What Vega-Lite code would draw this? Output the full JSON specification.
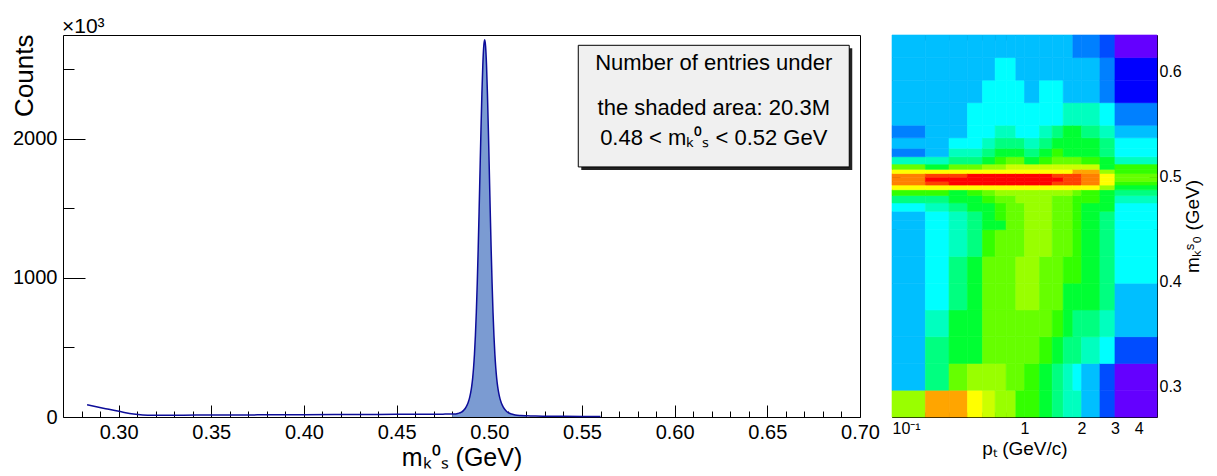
{
"$schema": "https://vega.github.io/schema/vega-lite/v6.json",
"padding": {"left": 10, "top": 15, "right": 5, "bottom": 5},
"background": "white",
"bounds": "flush",
"spacing": 32,
"config": {
  "font": "Liberation Sans",
  "view": {"stroke": "black", "strokeWidth": 1},
  "axis": {"domain": false, "grid": false, "labelColor": "black", "titleColor": "black", "tickColor": "black", "tickWidth": 1, "labelFont": "Liberation Sans", "titleFont": "Liberation Sans", "titleFontWeight": "normal", "labelOverlap": false, "labelBound": false, "tickCount": 200}
},
"datasets": {
  "spectrum": [
    {"m": 0.283, "counts_k": 88}, {"m": 0.288, "counts_k": 74}, {"m": 0.293, "counts_k": 60}, {"m": 0.298, "counts_k": 46},
    {"m": 0.303, "counts_k": 33}, {"m": 0.308, "counts_k": 22}, {"m": 0.313, "counts_k": 15}, {"m": 0.318, "counts_k": 12},
    {"m": 0.325, "counts_k": 12}, {"m": 0.335, "counts_k": 13}, {"m": 0.35, "counts_k": 14}, {"m": 0.37, "counts_k": 15},
    {"m": 0.40, "counts_k": 17}, {"m": 0.43, "counts_k": 18}, {"m": 0.45, "counts_k": 19}, {"m": 0.46, "counts_k": 19.5},
    {"m": 0.47, "counts_k": 20}, {"m": 0.475, "counts_k": 20.5}, {"m": 0.478, "counts_k": 21}, {"m": 0.48, "counts_k": 21},
    {"m": 0.481, "counts_k": 21}, {"m": 0.483, "counts_k": 25}, {"m": 0.485, "counts_k": 35}, {"m": 0.486, "counts_k": 46},
    {"m": 0.487, "counts_k": 61}, {"m": 0.488, "counts_k": 85}, {"m": 0.4885, "counts_k": 101}, {"m": 0.489, "counts_k": 121},
    {"m": 0.4895, "counts_k": 146}, {"m": 0.49, "counts_k": 178}, {"m": 0.4905, "counts_k": 220}, {"m": 0.491, "counts_k": 276},
    {"m": 0.4915, "counts_k": 352}, {"m": 0.492, "counts_k": 452}, {"m": 0.4925, "counts_k": 585}, {"m": 0.493, "counts_k": 753},
    {"m": 0.4935, "counts_k": 961}, {"m": 0.494, "counts_k": 1206}, {"m": 0.4945, "counts_k": 1480}, {"m": 0.495, "counts_k": 1772},
    {"m": 0.4955, "counts_k": 2059}, {"m": 0.496, "counts_k": 2320}, {"m": 0.4965, "counts_k": 2528}, {"m": 0.497, "counts_k": 2663},
    {"m": 0.4975, "counts_k": 2710}, {"m": 0.498, "counts_k": 2663}, {"m": 0.4985, "counts_k": 2528}, {"m": 0.499, "counts_k": 2320},
    {"m": 0.4995, "counts_k": 2059}, {"m": 0.5, "counts_k": 1772}, {"m": 0.5005, "counts_k": 1480}, {"m": 0.501, "counts_k": 1206},
    {"m": 0.5015, "counts_k": 961}, {"m": 0.502, "counts_k": 753}, {"m": 0.5025, "counts_k": 585}, {"m": 0.503, "counts_k": 452},
    {"m": 0.5035, "counts_k": 352}, {"m": 0.504, "counts_k": 276}, {"m": 0.5045, "counts_k": 220}, {"m": 0.505, "counts_k": 178},
    {"m": 0.5055, "counts_k": 146}, {"m": 0.506, "counts_k": 121}, {"m": 0.5065, "counts_k": 101}, {"m": 0.507, "counts_k": 85},
    {"m": 0.508, "counts_k": 61}, {"m": 0.509, "counts_k": 45}, {"m": 0.51, "counts_k": 33}, {"m": 0.512, "counts_k": 22},
    {"m": 0.514, "counts_k": 15}, {"m": 0.517, "counts_k": 11}, {"m": 0.52, "counts_k": 9}, {"m": 0.525, "counts_k": 7},
    {"m": 0.53, "counts_k": 6}, {"m": 0.54, "counts_k": 5}, {"m": 0.55, "counts_k": 4}, {"m": 0.56, "counts_k": 3}
  ],
  "ptbins": [
    {"pt_bin": 0, "pt_lo": 0.2, "pt_hi": 0.3}, {"pt_bin": 1, "pt_lo": 0.3, "pt_hi": 0.4}, {"pt_bin": 2, "pt_lo": 0.4, "pt_hi": 0.5},
    {"pt_bin": 3, "pt_lo": 0.5, "pt_hi": 0.6}, {"pt_bin": 4, "pt_lo": 0.6, "pt_hi": 0.7}, {"pt_bin": 5, "pt_lo": 0.7, "pt_hi": 0.8},
    {"pt_bin": 6, "pt_lo": 0.8, "pt_hi": 0.9}, {"pt_bin": 7, "pt_lo": 0.9, "pt_hi": 1.0}, {"pt_bin": 8, "pt_lo": 1.0, "pt_hi": 1.2},
    {"pt_bin": 9, "pt_lo": 1.2, "pt_hi": 1.4}, {"pt_bin": 10, "pt_lo": 1.4, "pt_hi": 1.6}, {"pt_bin": 11, "pt_lo": 1.6, "pt_hi": 1.8},
    {"pt_bin": 12, "pt_lo": 1.8, "pt_hi": 2.0}, {"pt_bin": 13, "pt_lo": 2.0, "pt_hi": 2.5}, {"pt_bin": 14, "pt_lo": 2.5, "pt_hi": 3.0},
    {"pt_bin": 15, "pt_lo": 3.0, "pt_hi": 5.0}
  ],
  "mbins": [
    {"m_bin": 0, "m_lo": 0.271, "m_hi": 0.2965}, {"m_bin": 1, "m_lo": 0.2965, "m_hi": 0.322}, {"m_bin": 2, "m_lo": 0.322, "m_hi": 0.3475},
    {"m_bin": 3, "m_lo": 0.3475, "m_hi": 0.373}, {"m_bin": 4, "m_lo": 0.373, "m_hi": 0.3985}, {"m_bin": 5, "m_lo": 0.3985, "m_hi": 0.424},
    {"m_bin": 6, "m_lo": 0.424, "m_hi": 0.4495}, {"m_bin": 7, "m_lo": 0.4495, "m_hi": 0.4585}, {"m_bin": 8, "m_lo": 0.4585, "m_hi": 0.467},
    {"m_bin": 9, "m_lo": 0.467, "m_hi": 0.475}, {"m_bin": 10, "m_lo": 0.475, "m_hi": 0.482}, {"m_bin": 11, "m_lo": 0.482, "m_hi": 0.4875},
    {"m_bin": 12, "m_lo": 0.4875, "m_hi": 0.492}, {"m_bin": 13, "m_lo": 0.492, "m_hi": 0.4955}, {"m_bin": 14, "m_lo": 0.4955, "m_hi": 0.4995},
    {"m_bin": 15, "m_lo": 0.4995, "m_hi": 0.503}, {"m_bin": 16, "m_lo": 0.503, "m_hi": 0.507}, {"m_bin": 17, "m_lo": 0.507, "m_hi": 0.512},
    {"m_bin": 18, "m_lo": 0.512, "m_hi": 0.519}, {"m_bin": 19, "m_lo": 0.519, "m_hi": 0.527}, {"m_bin": 20, "m_lo": 0.527, "m_hi": 0.537},
    {"m_bin": 21, "m_lo": 0.537, "m_hi": 0.549}, {"m_bin": 22, "m_lo": 0.549, "m_hi": 0.5705}, {"m_bin": 23, "m_lo": 0.5705, "m_hi": 0.592},
    {"m_bin": 24, "m_lo": 0.592, "m_hi": 0.6135}, {"m_bin": 25, "m_lo": 0.6135, "m_hi": 0.635}
  ],
  "cells": [
    {"pt_bin":0,"m_bin":0,"level":11},{"pt_bin":0,"m_bin":1,"level":4},{"pt_bin":0,"m_bin":2,"level":4},{"pt_bin":0,"m_bin":3,"level":4},{"pt_bin":0,"m_bin":4,"level":4},{"pt_bin":0,"m_bin":5,"level":4},{"pt_bin":0,"m_bin":6,"level":4},{"pt_bin":0,"m_bin":7,"level":4},{"pt_bin":0,"m_bin":8,"level":4},{"pt_bin":0,"m_bin":9,"level":5},{"pt_bin":0,"m_bin":10,"level":7},{"pt_bin":0,"m_bin":11,"level":9},{"pt_bin":0,"m_bin":12,"level":13},{"pt_bin":0,"m_bin":13,"level":15},{"pt_bin":0,"m_bin":14,"level":15},{"pt_bin":0,"m_bin":15,"level":15},{"pt_bin":0,"m_bin":16,"level":13},{"pt_bin":0,"m_bin":17,"level":10},{"pt_bin":0,"m_bin":18,"level":6},{"pt_bin":0,"m_bin":19,"level":3},{"pt_bin":0,"m_bin":20,"level":4},{"pt_bin":0,"m_bin":21,"level":3},{"pt_bin":0,"m_bin":22,"level":4},{"pt_bin":0,"m_bin":23,"level":4},{"pt_bin":0,"m_bin":24,"level":4},{"pt_bin":0,"m_bin":25,"level":4},
    {"pt_bin":1,"m_bin":0,"level":14},{"pt_bin":1,"m_bin":1,"level":7},{"pt_bin":1,"m_bin":2,"level":7},{"pt_bin":1,"m_bin":3,"level":6},{"pt_bin":1,"m_bin":4,"level":5},{"pt_bin":1,"m_bin":5,"level":5},{"pt_bin":1,"m_bin":6,"level":5},{"pt_bin":1,"m_bin":7,"level":5},{"pt_bin":1,"m_bin":8,"level":5},{"pt_bin":1,"m_bin":9,"level":6},{"pt_bin":1,"m_bin":10,"level":7},{"pt_bin":1,"m_bin":11,"level":9},{"pt_bin":1,"m_bin":12,"level":13},{"pt_bin":1,"m_bin":13,"level":16},{"pt_bin":1,"m_bin":14,"level":17},{"pt_bin":1,"m_bin":15,"level":16},{"pt_bin":1,"m_bin":16,"level":13},{"pt_bin":1,"m_bin":17,"level":8},{"pt_bin":1,"m_bin":18,"level":6},{"pt_bin":1,"m_bin":19,"level":4},{"pt_bin":1,"m_bin":20,"level":4},{"pt_bin":1,"m_bin":21,"level":4},{"pt_bin":1,"m_bin":22,"level":4},{"pt_bin":1,"m_bin":23,"level":4},{"pt_bin":1,"m_bin":24,"level":4},{"pt_bin":1,"m_bin":25,"level":4},
    {"pt_bin":2,"m_bin":0,"level":14},{"pt_bin":2,"m_bin":1,"level":10},{"pt_bin":2,"m_bin":2,"level":8},{"pt_bin":2,"m_bin":3,"level":8},{"pt_bin":2,"m_bin":4,"level":7},{"pt_bin":2,"m_bin":5,"level":7},{"pt_bin":2,"m_bin":6,"level":6},{"pt_bin":2,"m_bin":7,"level":6},{"pt_bin":2,"m_bin":8,"level":6},{"pt_bin":2,"m_bin":9,"level":7},{"pt_bin":2,"m_bin":10,"level":8},{"pt_bin":2,"m_bin":11,"level":8},{"pt_bin":2,"m_bin":12,"level":13},{"pt_bin":2,"m_bin":13,"level":17},{"pt_bin":2,"m_bin":14,"level":17},{"pt_bin":2,"m_bin":15,"level":16},{"pt_bin":2,"m_bin":16,"level":13},{"pt_bin":2,"m_bin":17,"level":10},{"pt_bin":2,"m_bin":18,"level":7},{"pt_bin":2,"m_bin":19,"level":6},{"pt_bin":2,"m_bin":20,"level":5},{"pt_bin":2,"m_bin":21,"level":4},{"pt_bin":2,"m_bin":22,"level":4},{"pt_bin":2,"m_bin":23,"level":4},{"pt_bin":2,"m_bin":24,"level":4},{"pt_bin":2,"m_bin":25,"level":4},
    {"pt_bin":3,"m_bin":0,"level":13},{"pt_bin":3,"m_bin":1,"level":11},{"pt_bin":3,"m_bin":2,"level":8},{"pt_bin":3,"m_bin":3,"level":8},{"pt_bin":3,"m_bin":4,"level":8},{"pt_bin":3,"m_bin":5,"level":8},{"pt_bin":3,"m_bin":6,"level":7},{"pt_bin":3,"m_bin":7,"level":7},{"pt_bin":3,"m_bin":8,"level":7},{"pt_bin":3,"m_bin":9,"level":8},{"pt_bin":3,"m_bin":10,"level":8},{"pt_bin":3,"m_bin":11,"level":9},{"pt_bin":3,"m_bin":12,"level":13},{"pt_bin":3,"m_bin":13,"level":17},{"pt_bin":3,"m_bin":14,"level":17},{"pt_bin":3,"m_bin":15,"level":17},{"pt_bin":3,"m_bin":16,"level":13},{"pt_bin":3,"m_bin":17,"level":10},{"pt_bin":3,"m_bin":18,"level":7},{"pt_bin":3,"m_bin":19,"level":6},{"pt_bin":3,"m_bin":20,"level":5},{"pt_bin":3,"m_bin":21,"level":5},{"pt_bin":3,"m_bin":22,"level":5},{"pt_bin":3,"m_bin":23,"level":4},{"pt_bin":3,"m_bin":24,"level":4},{"pt_bin":3,"m_bin":25,"level":4},
    {"pt_bin":4,"m_bin":0,"level":12},{"pt_bin":4,"m_bin":1,"level":11},{"pt_bin":4,"m_bin":2,"level":10},{"pt_bin":4,"m_bin":3,"level":10},{"pt_bin":4,"m_bin":4,"level":10},{"pt_bin":4,"m_bin":5,"level":10},{"pt_bin":4,"m_bin":6,"level":9},{"pt_bin":4,"m_bin":7,"level":8},{"pt_bin":4,"m_bin":8,"level":8},{"pt_bin":4,"m_bin":9,"level":8},{"pt_bin":4,"m_bin":10,"level":9},{"pt_bin":4,"m_bin":11,"level":10},{"pt_bin":4,"m_bin":12,"level":13},{"pt_bin":4,"m_bin":13,"level":17},{"pt_bin":4,"m_bin":14,"level":17},{"pt_bin":4,"m_bin":15,"level":17},{"pt_bin":4,"m_bin":16,"level":13},{"pt_bin":4,"m_bin":17,"level":11},{"pt_bin":4,"m_bin":18,"level":8},{"pt_bin":4,"m_bin":19,"level":7},{"pt_bin":4,"m_bin":20,"level":6},{"pt_bin":4,"m_bin":21,"level":5},{"pt_bin":4,"m_bin":22,"level":5},{"pt_bin":4,"m_bin":23,"level":5},{"pt_bin":4,"m_bin":24,"level":4},{"pt_bin":4,"m_bin":25,"level":4},
    {"pt_bin":5,"m_bin":0,"level":11},{"pt_bin":5,"m_bin":1,"level":11},{"pt_bin":5,"m_bin":2,"level":10},{"pt_bin":5,"m_bin":3,"level":10},{"pt_bin":5,"m_bin":4,"level":10},{"pt_bin":5,"m_bin":5,"level":10},{"pt_bin":5,"m_bin":6,"level":10},{"pt_bin":5,"m_bin":7,"level":8},{"pt_bin":5,"m_bin":8,"level":9},{"pt_bin":5,"m_bin":9,"level":9},{"pt_bin":5,"m_bin":10,"level":10},{"pt_bin":5,"m_bin":11,"level":11},{"pt_bin":5,"m_bin":12,"level":13},{"pt_bin":5,"m_bin":13,"level":17},{"pt_bin":5,"m_bin":14,"level":17},{"pt_bin":5,"m_bin":15,"level":17},{"pt_bin":5,"m_bin":16,"level":13},{"pt_bin":5,"m_bin":17,"level":11},{"pt_bin":5,"m_bin":18,"level":9},{"pt_bin":5,"m_bin":19,"level":8},{"pt_bin":5,"m_bin":20,"level":7},{"pt_bin":5,"m_bin":21,"level":6},{"pt_bin":5,"m_bin":22,"level":5},{"pt_bin":5,"m_bin":23,"level":5},{"pt_bin":5,"m_bin":24,"level":5},{"pt_bin":5,"m_bin":25,"level":4},
    {"pt_bin":6,"m_bin":0,"level":11},{"pt_bin":6,"m_bin":1,"level":10},{"pt_bin":6,"m_bin":2,"level":10},{"pt_bin":6,"m_bin":3,"level":10},{"pt_bin":6,"m_bin":4,"level":10},{"pt_bin":6,"m_bin":5,"level":10},{"pt_bin":6,"m_bin":6,"level":10},{"pt_bin":6,"m_bin":7,"level":10},{"pt_bin":6,"m_bin":8,"level":10},{"pt_bin":6,"m_bin":9,"level":10},{"pt_bin":6,"m_bin":10,"level":10},{"pt_bin":6,"m_bin":11,"level":11},{"pt_bin":6,"m_bin":12,"level":13},{"pt_bin":6,"m_bin":13,"level":17},{"pt_bin":6,"m_bin":14,"level":17},{"pt_bin":6,"m_bin":15,"level":17},{"pt_bin":6,"m_bin":16,"level":13},{"pt_bin":6,"m_bin":17,"level":12},{"pt_bin":6,"m_bin":18,"level":10},{"pt_bin":6,"m_bin":19,"level":8},{"pt_bin":6,"m_bin":20,"level":7},{"pt_bin":6,"m_bin":21,"level":6},{"pt_bin":6,"m_bin":22,"level":5},{"pt_bin":6,"m_bin":23,"level":5},{"pt_bin":6,"m_bin":24,"level":5},{"pt_bin":6,"m_bin":25,"level":4},
    {"pt_bin":7,"m_bin":0,"level":9},{"pt_bin":7,"m_bin":1,"level":10},{"pt_bin":7,"m_bin":2,"level":10},{"pt_bin":7,"m_bin":3,"level":10},{"pt_bin":7,"m_bin":4,"level":11},{"pt_bin":7,"m_bin":5,"level":11},{"pt_bin":7,"m_bin":6,"level":10},{"pt_bin":7,"m_bin":7,"level":10},{"pt_bin":7,"m_bin":8,"level":10},{"pt_bin":7,"m_bin":9,"level":10},{"pt_bin":7,"m_bin":10,"level":11},{"pt_bin":7,"m_bin":11,"level":11},{"pt_bin":7,"m_bin":12,"level":13},{"pt_bin":7,"m_bin":13,"level":17},{"pt_bin":7,"m_bin":14,"level":17},{"pt_bin":7,"m_bin":15,"level":17},{"pt_bin":7,"m_bin":16,"level":13},{"pt_bin":7,"m_bin":17,"level":12},{"pt_bin":7,"m_bin":18,"level":10},{"pt_bin":7,"m_bin":19,"level":8},{"pt_bin":7,"m_bin":20,"level":7},{"pt_bin":7,"m_bin":21,"level":5},{"pt_bin":7,"m_bin":22,"level":5},{"pt_bin":7,"m_bin":23,"level":5},{"pt_bin":7,"m_bin":24,"level":4},{"pt_bin":7,"m_bin":25,"level":4},
    {"pt_bin":8,"m_bin":0,"level":9},{"pt_bin":8,"m_bin":1,"level":9},{"pt_bin":8,"m_bin":2,"level":10},{"pt_bin":8,"m_bin":3,"level":10},{"pt_bin":8,"m_bin":4,"level":11},{"pt_bin":8,"m_bin":5,"level":11},{"pt_bin":8,"m_bin":6,"level":11},{"pt_bin":8,"m_bin":7,"level":11},{"pt_bin":8,"m_bin":8,"level":11},{"pt_bin":8,"m_bin":9,"level":11},{"pt_bin":8,"m_bin":10,"level":11},{"pt_bin":8,"m_bin":11,"level":11},{"pt_bin":8,"m_bin":12,"level":13},{"pt_bin":8,"m_bin":13,"level":17},{"pt_bin":8,"m_bin":14,"level":17},{"pt_bin":8,"m_bin":15,"level":17},{"pt_bin":8,"m_bin":16,"level":13},{"pt_bin":8,"m_bin":17,"level":12},{"pt_bin":8,"m_bin":18,"level":8},{"pt_bin":8,"m_bin":19,"level":7},{"pt_bin":8,"m_bin":20,"level":6},{"pt_bin":8,"m_bin":21,"level":5},{"pt_bin":8,"m_bin":22,"level":5},{"pt_bin":8,"m_bin":23,"level":4},{"pt_bin":8,"m_bin":24,"level":4},{"pt_bin":8,"m_bin":25,"level":4},
    {"pt_bin":9,"m_bin":0,"level":8},{"pt_bin":9,"m_bin":1,"level":8},{"pt_bin":9,"m_bin":2,"level":9},{"pt_bin":9,"m_bin":3,"level":10},{"pt_bin":9,"m_bin":4,"level":10},{"pt_bin":9,"m_bin":5,"level":10},{"pt_bin":9,"m_bin":6,"level":11},{"pt_bin":9,"m_bin":7,"level":11},{"pt_bin":9,"m_bin":8,"level":11},{"pt_bin":9,"m_bin":9,"level":11},{"pt_bin":9,"m_bin":10,"level":11},{"pt_bin":9,"m_bin":11,"level":11},{"pt_bin":9,"m_bin":12,"level":13},{"pt_bin":9,"m_bin":13,"level":17},{"pt_bin":9,"m_bin":14,"level":17},{"pt_bin":9,"m_bin":15,"level":17},{"pt_bin":9,"m_bin":16,"level":13},{"pt_bin":9,"m_bin":17,"level":12},{"pt_bin":9,"m_bin":18,"level":9},{"pt_bin":9,"m_bin":19,"level":8},{"pt_bin":9,"m_bin":20,"level":7},{"pt_bin":9,"m_bin":21,"level":6},{"pt_bin":9,"m_bin":22,"level":5},{"pt_bin":9,"m_bin":23,"level":5},{"pt_bin":9,"m_bin":24,"level":4},{"pt_bin":9,"m_bin":25,"level":4},
    {"pt_bin":10,"m_bin":0,"level":7},{"pt_bin":10,"m_bin":1,"level":7},{"pt_bin":10,"m_bin":2,"level":8},{"pt_bin":10,"m_bin":3,"level":9},{"pt_bin":10,"m_bin":4,"level":10},{"pt_bin":10,"m_bin":5,"level":10},{"pt_bin":10,"m_bin":6,"level":10},{"pt_bin":10,"m_bin":7,"level":10},{"pt_bin":10,"m_bin":8,"level":10},{"pt_bin":10,"m_bin":9,"level":10},{"pt_bin":10,"m_bin":10,"level":10},{"pt_bin":10,"m_bin":11,"level":11},{"pt_bin":10,"m_bin":12,"level":13},{"pt_bin":10,"m_bin":13,"level":16},{"pt_bin":10,"m_bin":14,"level":17},{"pt_bin":10,"m_bin":15,"level":16},{"pt_bin":10,"m_bin":16,"level":13},{"pt_bin":10,"m_bin":17,"level":12},{"pt_bin":10,"m_bin":18,"level":10},{"pt_bin":10,"m_bin":19,"level":9},{"pt_bin":10,"m_bin":20,"level":8},{"pt_bin":10,"m_bin":21,"level":7},{"pt_bin":10,"m_bin":22,"level":5},{"pt_bin":10,"m_bin":23,"level":5},{"pt_bin":10,"m_bin":24,"level":4},{"pt_bin":10,"m_bin":25,"level":4},
    {"pt_bin":11,"m_bin":0,"level":6},{"pt_bin":11,"m_bin":1,"level":6},{"pt_bin":11,"m_bin":2,"level":7},{"pt_bin":11,"m_bin":3,"level":8},{"pt_bin":11,"m_bin":4,"level":8},{"pt_bin":11,"m_bin":5,"level":9},{"pt_bin":11,"m_bin":6,"level":10},{"pt_bin":11,"m_bin":7,"level":10},{"pt_bin":11,"m_bin":8,"level":10},{"pt_bin":11,"m_bin":9,"level":10},{"pt_bin":11,"m_bin":10,"level":10},{"pt_bin":11,"m_bin":11,"level":11},{"pt_bin":11,"m_bin":12,"level":13},{"pt_bin":11,"m_bin":13,"level":16},{"pt_bin":11,"m_bin":14,"level":16},{"pt_bin":11,"m_bin":15,"level":16},{"pt_bin":11,"m_bin":16,"level":13},{"pt_bin":11,"m_bin":17,"level":12},{"pt_bin":11,"m_bin":18,"level":10},{"pt_bin":11,"m_bin":19,"level":8},{"pt_bin":11,"m_bin":20,"level":8},{"pt_bin":11,"m_bin":21,"level":8},{"pt_bin":11,"m_bin":22,"level":6},{"pt_bin":11,"m_bin":23,"level":4},{"pt_bin":11,"m_bin":24,"level":4},{"pt_bin":11,"m_bin":25,"level":4},
    {"pt_bin":12,"m_bin":0,"level":6},{"pt_bin":12,"m_bin":1,"level":5},{"pt_bin":12,"m_bin":2,"level":7},{"pt_bin":12,"m_bin":3,"level":7},{"pt_bin":12,"m_bin":4,"level":8},{"pt_bin":12,"m_bin":5,"level":9},{"pt_bin":12,"m_bin":6,"level":9},{"pt_bin":12,"m_bin":7,"level":9},{"pt_bin":12,"m_bin":8,"level":9},{"pt_bin":12,"m_bin":9,"level":9},{"pt_bin":12,"m_bin":10,"level":9},{"pt_bin":12,"m_bin":11,"level":10},{"pt_bin":12,"m_bin":12,"level":13},{"pt_bin":12,"m_bin":13,"level":16},{"pt_bin":12,"m_bin":14,"level":16},{"pt_bin":12,"m_bin":15,"level":16},{"pt_bin":12,"m_bin":16,"level":14},{"pt_bin":12,"m_bin":17,"level":12},{"pt_bin":12,"m_bin":18,"level":10},{"pt_bin":12,"m_bin":19,"level":8},{"pt_bin":12,"m_bin":20,"level":8},{"pt_bin":12,"m_bin":21,"level":8},{"pt_bin":12,"m_bin":22,"level":6},{"pt_bin":12,"m_bin":23,"level":4},{"pt_bin":12,"m_bin":24,"level":4},{"pt_bin":12,"m_bin":25,"level":3},
    {"pt_bin":13,"m_bin":0,"level":4},{"pt_bin":13,"m_bin":1,"level":4},{"pt_bin":13,"m_bin":2,"level":6},{"pt_bin":13,"m_bin":3,"level":7},{"pt_bin":13,"m_bin":4,"level":8},{"pt_bin":13,"m_bin":5,"level":8},{"pt_bin":13,"m_bin":6,"level":8},{"pt_bin":13,"m_bin":7,"level":8},{"pt_bin":13,"m_bin":8,"level":8},{"pt_bin":13,"m_bin":9,"level":8},{"pt_bin":13,"m_bin":10,"level":9},{"pt_bin":13,"m_bin":11,"level":9},{"pt_bin":13,"m_bin":12,"level":13},{"pt_bin":13,"m_bin":13,"level":15},{"pt_bin":13,"m_bin":14,"level":15},{"pt_bin":13,"m_bin":15,"level":15},{"pt_bin":13,"m_bin":16,"level":14},{"pt_bin":13,"m_bin":17,"level":12},{"pt_bin":13,"m_bin":18,"level":9},{"pt_bin":13,"m_bin":19,"level":8},{"pt_bin":13,"m_bin":20,"level":8},{"pt_bin":13,"m_bin":21,"level":7},{"pt_bin":13,"m_bin":22,"level":6},{"pt_bin":13,"m_bin":23,"level":4},{"pt_bin":13,"m_bin":24,"level":4},{"pt_bin":13,"m_bin":25,"level":3},
    {"pt_bin":14,"m_bin":0,"level":2},{"pt_bin":14,"m_bin":1,"level":2},{"pt_bin":14,"m_bin":2,"level":5},{"pt_bin":14,"m_bin":3,"level":6},{"pt_bin":14,"m_bin":4,"level":7},{"pt_bin":14,"m_bin":5,"level":7},{"pt_bin":14,"m_bin":6,"level":7},{"pt_bin":14,"m_bin":7,"level":7},{"pt_bin":14,"m_bin":8,"level":7},{"pt_bin":14,"m_bin":9,"level":8},{"pt_bin":14,"m_bin":10,"level":8},{"pt_bin":14,"m_bin":11,"level":8},{"pt_bin":14,"m_bin":12,"level":11},{"pt_bin":14,"m_bin":13,"level":13},{"pt_bin":14,"m_bin":14,"level":13},{"pt_bin":14,"m_bin":15,"level":13},{"pt_bin":14,"m_bin":16,"level":11},{"pt_bin":14,"m_bin":17,"level":8},{"pt_bin":14,"m_bin":18,"level":8},{"pt_bin":14,"m_bin":19,"level":7},{"pt_bin":14,"m_bin":20,"level":7},{"pt_bin":14,"m_bin":21,"level":6},{"pt_bin":14,"m_bin":22,"level":5},{"pt_bin":14,"m_bin":23,"level":3},{"pt_bin":14,"m_bin":24,"level":3},{"pt_bin":14,"m_bin":25,"level":2},
    {"pt_bin":15,"m_bin":0,"level":0},{"pt_bin":15,"m_bin":1,"level":0},{"pt_bin":15,"m_bin":2,"level":2},{"pt_bin":15,"m_bin":3,"level":4},{"pt_bin":15,"m_bin":4,"level":4},{"pt_bin":15,"m_bin":5,"level":5},{"pt_bin":15,"m_bin":6,"level":5},{"pt_bin":15,"m_bin":7,"level":5},{"pt_bin":15,"m_bin":8,"level":5},{"pt_bin":15,"m_bin":9,"level":5},{"pt_bin":15,"m_bin":10,"level":6},{"pt_bin":15,"m_bin":11,"level":7},{"pt_bin":15,"m_bin":12,"level":8},{"pt_bin":15,"m_bin":13,"level":9},{"pt_bin":15,"m_bin":14,"level":10},{"pt_bin":15,"m_bin":15,"level":10},{"pt_bin":15,"m_bin":16,"level":9},{"pt_bin":15,"m_bin":17,"level":9},{"pt_bin":15,"m_bin":18,"level":6},{"pt_bin":15,"m_bin":19,"level":5},{"pt_bin":15,"m_bin":20,"level":5},{"pt_bin":15,"m_bin":21,"level":4},{"pt_bin":15,"m_bin":22,"level":3},{"pt_bin":15,"m_bin":23,"level":1},{"pt_bin":15,"m_bin":24,"level":1},{"pt_bin":15,"m_bin":25,"level":0}
  ]
},
"hconcat": [
  {
    "width": 797,
    "height": 382,
    "data": {"name": "spectrum"},
    "layer": [
      {
        "transform": [{"filter": "datum.m >= 0.48 && datum.m <= 0.52"}],
        "mark": {"type": "area", "interpolate": "monotone", "color": "#7b9bd2", "opacity": 1},
        "encoding": {
          "x": {"field": "m", "type": "quantitative", "scale": {"domain": [0.27, 0.70], "nice": false, "zero": false},
            "axis": {"values": [0.28,0.29,0.30,0.31,0.32,0.33,0.34,0.35,0.36,0.37,0.38,0.39,0.40,0.41,0.42,0.43,0.44,0.45,0.46,0.47,0.48,0.49,0.50,0.51,0.52,0.53,0.54,0.55,0.56,0.57,0.58,0.59,0.60,0.61,0.62,0.63,0.64,0.65,0.66,0.67,0.68,0.69,0.70],
              "tickCount": 200,
              "labelExpr": "abs(datum.value*20 - round(datum.value*20)) < 0.001 ? format(datum.value, '.2f') : ''",
              "tickSize": {"condition": {"test": "abs(datum.value*20 - round(datum.value*20)) < 0.001", "value": -12}, "value": -6},
              "labelPadding": 17, "labelFontSize": 20, "labelFlush": false, "labelOverlap": false,
              "title": "mₖ⁰ₛ (GeV)", "titleFontSize": 25, "titleX": 398.5, "titleY": 48, "titleAlign": "center", "titleBaseline": "alphabetic"}},
          "y": {"field": "counts_k", "type": "quantitative", "scale": {"domain": [0, 2745], "nice": false},
            "axis": {"values": [0, 500, 1000, 1500, 2000, 2500], "tickCount": 200,
              "labelExpr": "datum.value % 1000 === 0 ? format(datum.value, 'd') : ''",
              "tickSize": {"condition": {"test": "datum.value % 1000 === 0", "value": -22}, "value": -11},
              "labelPadding": 28, "labelFontSize": 20, "labelOverlap": false,
              "title": "Counts", "titleFontSize": 26, "titleAngle": 270, "titleAlign": "right", "titleBaseline": "alphabetic", "titleX": -31, "titleY": -1}}
        }
      },
      {
        "mark": {"type": "line", "interpolate": "monotone", "color": "#0d0d99", "strokeWidth": 1.5},
        "encoding": {
          "x": {"field": "m", "type": "quantitative"},
          "y": {"field": "counts_k", "type": "quantitative"}
        }
      },
      {
        "data": {"values": [{}]},
        "mark": {"type": "text", "text": "×10³", "fontSize": 21, "align": "left", "baseline": "alphabetic", "color": "black", "dx": -1, "dy": -2, "clip": false},
        "encoding": {"x": {"datum": 0.27}, "y": {"datum": 2745}}
      },
      {
        "data": {"values": [{}]},
        "mark": {"type": "rect", "color": "#222222", "xOffset": 3, "x2Offset": 3, "yOffset": 3, "y2Offset": 3},
        "encoding": {"x": {"datum": 0.548}, "x2": {"datum": 0.6942}, "y": {"datum": 2671}, "y2": {"datum": 1797}}
      },
      {
        "data": {"values": [{}]},
        "mark": {"type": "rect", "fill": "#f0f0f0", "stroke": "black", "strokeWidth": 1},
        "encoding": {"x": {"datum": 0.548}, "x2": {"datum": 0.6942}, "y": {"datum": 2671}, "y2": {"datum": 1797}}
      },
      {
        "data": {"values": [{}]},
        "mark": {"type": "text", "text": "Number of entries under", "fontSize": 22, "align": "center", "baseline": "alphabetic", "color": "black"},
        "encoding": {"x": {"datum": 0.6211}, "y": {"datum": 2490}}
      },
      {
        "data": {"values": [{}]},
        "mark": {"type": "text", "text": "the shaded area: 20.3M", "fontSize": 22, "align": "center", "baseline": "alphabetic", "color": "black"},
        "encoding": {"x": {"datum": 0.6211}, "y": {"datum": 2170}}
      },
      {
        "data": {"values": [{}]},
        "mark": {"type": "text", "text": "0.48 < mₖ⁰ₛ < 0.52 GeV", "fontSize": 22, "align": "center", "baseline": "alphabetic", "color": "black"},
        "encoding": {"x": {"datum": 0.6211}, "y": {"datum": 1955}}
      }
    ]
  },
  {
    "width": 265,
    "height": 382,
    "data": {"name": "cells"},
    "transform": [
      {"lookup": "pt_bin", "from": {"data": {"name": "ptbins"}, "key": "pt_bin", "fields": ["pt_lo", "pt_hi"]}},
      {"lookup": "m_bin", "from": {"data": {"name": "mbins"}, "key": "m_bin", "fields": ["m_lo", "m_hi"]}}
    ],
    "layer": [
      {
        "mark": {"type": "rect", "strokeWidth": 0.6},
        "encoding": {
          "x": {"field": "pt_lo", "type": "quantitative", "scale": {"type": "log", "domain": [0.2, 5], "nice": false},
            "axis": {"orient": "bottom", "values": [0.2,0.3,0.4,0.5,0.6,0.7,0.8,0.9,1,2,3,4], "tickCount": 200,
              "labelExpr": "datum.value < 0.25 ? '10⁻¹' : (datum.value === 1 || datum.value >= 2) ? format(datum.value, 'd') : ''",
              "tickSize": {"condition": {"test": "datum.value === 1", "value": -10}, "value": -5},
              "labelPadding": {"condition": {"test": "datum.value === 1", "value": 13}, "value": 8},
              "labelFontSize": 16, "labelFlush": true, "labelOverlap": false,
              "title": "pₜ (GeV/c)", "titleFontSize": 19, "titleX": 132.5, "titleY": 37, "titleAlign": "center", "titleBaseline": "alphabetic"}},
          "x2": {"field": "pt_hi"},
          "y": {"field": "m_lo", "type": "quantitative", "scale": {"domain": [0.271, 0.635], "nice": false, "zero": false},
            "axis": {"orient": "right", "values": [0.3,0.35,0.4,0.45,0.5,0.55,0.6], "tickCount": 200,
              "labelExpr": "abs(datum.value*10 - round(datum.value*10)) < 0.001 ? format(datum.value, '.1f') : ''",
              "tickSize": {"condition": {"test": "abs(datum.value*10 - round(datum.value*10)) < 0.001", "value": -8}, "value": -4},
              "labelPadding": 10, "labelFontSize": 16, "labelOverlap": false,
              "title": "mₖˢ₀ (GeV)", "titleFontSize": 19, "titleAngle": 270, "titleX": 41, "titleY": 191, "titleAlign": "center", "titleBaseline": "alphabetic"}},
          "y2": {"field": "m_hi"},
          "color": {"field": "level", "type": "quantitative", "legend": null,
            "scale": {"domain": [0, 17], "range": ["#6400ff","#0000ff","#004cff","#0080ff","#00bfff","#00ffff","#00ffbf","#00ff80","#00ff33","#33ff00","#66ff00","#99ff00","#ccff00","#ffff00","#ffa500","#ff8000","#ff4000","#ff0000"]}},
          "stroke": {"field": "level", "type": "quantitative", "legend": null,
            "scale": {"domain": [0, 17], "range": ["#6400ff","#0000ff","#004cff","#0080ff","#00bfff","#00ffff","#00ffbf","#00ff80","#00ff33","#33ff00","#66ff00","#99ff00","#ccff00","#ffff00","#ffa500","#ff8000","#ff4000","#ff0000"]}}
        }
      },
      {
        "mark": {"type": "point", "opacity": 0},
        "encoding": {
          "x": {"field": "pt_lo", "type": "quantitative",
            "axis": {"orient": "top", "values": [0.3,0.4,0.5,0.6,0.7,0.8,0.9,1,2,3,4], "tickCount": 200, "labels": false, "title": null,
              "tickSize": {"condition": {"test": "datum.value === 1", "value": -10}, "value": -5}}},
          "y": {"field": "m_lo", "type": "quantitative",
            "axis": {"orient": "left", "values": [0.3,0.35,0.4,0.45,0.5,0.55,0.6], "tickCount": 200, "labels": false, "title": null,
              "tickSize": {"condition": {"test": "abs(datum.value*10 - round(datum.value*10)) < 0.001", "value": -8}, "value": -4}}}
        }
      }
    ],
    "resolve": {"axis": {"x": "independent", "y": "independent"}}
  }
]
}
